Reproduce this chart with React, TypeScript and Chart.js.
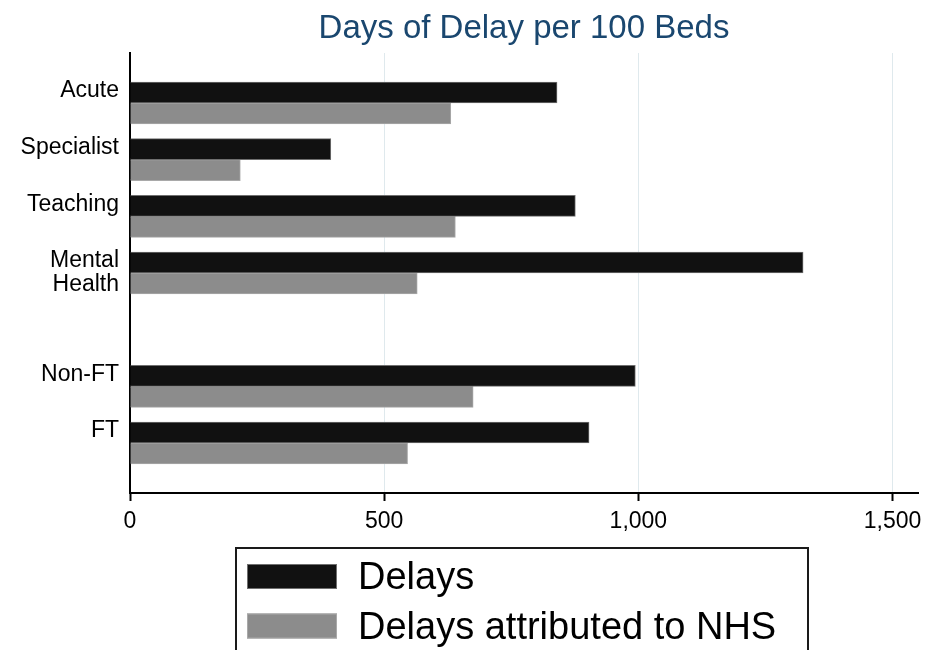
import React, { useEffect, useRef } from "react";
import { Chart, registerables } from "chart.js";

Chart.register(...registerables);

const categories = ["Acute", "Specialist", "Teaching", "Mental Health", "", "Non-FT", "FT"];
const delays = [840, 395, 876, 1324, null, 994, 903];
const delaysNHS = [631, 217, 640, 565, null, 675, 546];
const seriesLabels = ["Delays", "Delays attributed to NHS"];
const xTicks = [0, 500, 1000, 1500];
const xMax = 1550;
const titleText = "Days of Delay per 100 Beds";

const FONT = "'Liberation Sans', Arial, Helvetica, sans-serif";

const boxLegend = {
  id: "boxLegend",
  afterDraw(chart: any) {
    const ctx = chart.ctx;
    ctx.save();
    ctx.lineWidth = 2;
    ctx.strokeStyle = "#1a1a1a";
    ctx.strokeRect(236, 548, 572, 160);
    chart.data.datasets.forEach((ds: any, i: number) => {
      const y = 564 + i * 49.5;
      ctx.fillStyle = ds.backgroundColor;
      ctx.fillRect(247, y, 90, 25);
      ctx.lineWidth = 1;
      ctx.strokeStyle = ds.borderColor;
      ctx.strokeRect(247.5, y + 0.5, 89, 24);
      ctx.fillStyle = "#000";
      ctx.font = "38px " + FONT;
      ctx.textBaseline = "alphabetic";
      ctx.textAlign = "left";
      ctx.fillText(ds.label, 358, 589 + i * 50);
    });
    ctx.restore();
  },
};

export default function App() {
  const ref = useRef<HTMLCanvasElement | null>(null);

  useEffect(() => {
    if (!ref.current) return;
    Chart.defaults.font.family = FONT;
    const chart = new Chart(ref.current, {
      type: "bar",
      data: {
        labels: categories,
        datasets: [
          {
            label: seriesLabels[0],
            data: delays,
            backgroundColor: "#111111",
            borderColor: "#6f6f6f",
            borderWidth: 1,
            barThickness: 21,
          },
          {
            label: seriesLabels[1],
            data: delaysNHS,
            backgroundColor: "#8c8c8c",
            borderColor: "#a9a9a9",
            borderWidth: 1,
            barThickness: 21,
          },
        ],
      },
      options: {
        indexAxis: "y",
        responsive: false,
        animation: false,
        devicePixelRatio: 1,
        layout: { padding: { top: 0, left: 0, right: 9, bottom: 107.4 } },
        plugins: {
          legend: { display: false },
          tooltip: { enabled: false },
          title: {
            display: true,
            text: titleText,
            fullSize: false,
            color: "#1a476f",
            font: { size: 33, weight: "normal", family: FONT },
            padding: { top: 9, bottom: 4.4 },
          },
        },
        scales: {
          x: {
            type: "linear",
            min: 0,
            max: xMax,
            afterBuildTicks: (scale: any) => {
              scale.ticks = xTicks.map((v) => ({ value: v }));
            },
            afterFit: (scale: any) => {
              scale.paddingRight = 9;
              scale.paddingLeft = 0;
            },
            ticks: {
              color: "#000",
              font: { size: 23, family: FONT },
              padding: 7,
              maxRotation: 0,
              callback: (v: any) => Number(v).toLocaleString("en-US"),
            },
            grid: {
              color: "#dfe9ed",
              lineWidth: 1,
              tickColor: "#000",
              tickWidth: 2,
              tickLength: 8,
              drawTicks: true,
            },
            border: { display: true, color: "#000", width: 2 },
          },
          y: {
            type: "category",
            afterBuildTicks: (scale: any) => {
              const e = 0.382;
              scale._startValue -= e;
              scale._valueRange += 2 * e;
            },
            afterFit: (scale: any) => {
              scale.width = 130;
            },
            ticks: {
              color: "#000",
              autoSkip: false,
              padding: 11,
              font: { size: 23, family: FONT, lineHeight: "24px" },
              callback: function (this: any, value: any) {
                const l = String(this.getLabelForValue(value));
                return l.includes(" ") ? l.split(" ") : [l, ""];
              },
            },
            grid: { display: false, drawTicks: false },
            border: { display: true, color: "#000", width: 2 },
          },
        },
      },
      plugins: [boxLegend],
    });
    return () => chart.destroy();
  }, []);

  return (
    <div style={{ position: "fixed", left: 0, top: 0, width: 927, height: 650, background: "#fff" }}>
      <canvas ref={ref} width={927} height={650} style={{ width: 927, height: 650, display: "block" }} />
    </div>
  );
}
